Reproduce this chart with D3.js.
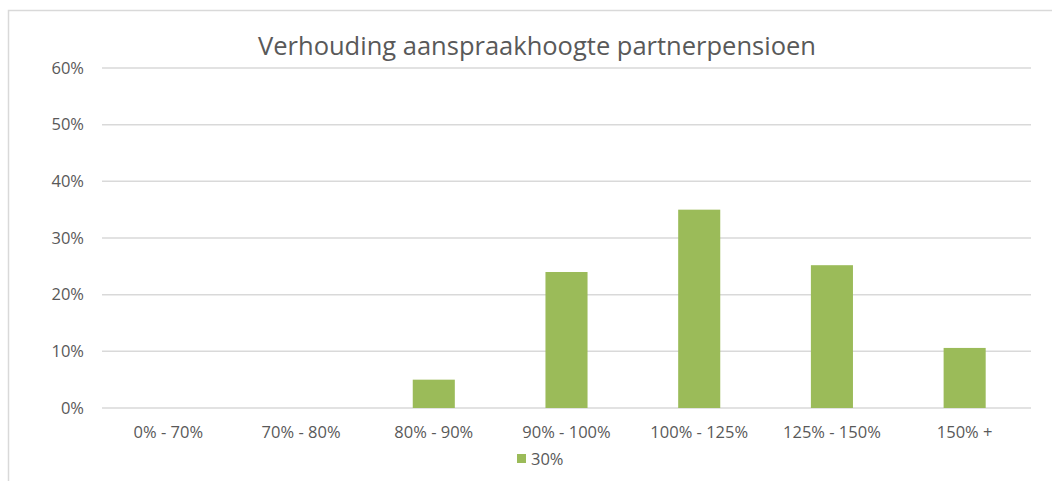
<!DOCTYPE html>
<html>
<head>
<meta charset="utf-8">
<script src="https://cdn.jsdelivr.net/npm/d3@7"></script>
<style>
  body { margin: 0; background: #fff; }
  text { font-family: "Open Sans", "Liberation Sans", sans-serif; fill: #595959; }
</style>
</head>
<body>
<svg id="chart"></svg>
<script>
const categories = ["0% - 70%", "70% - 80%", "80% - 90%", "90% - 100%", "100% - 125%", "125% - 150%", "150% +"];
const values = [0, 0, 5.0, 24.0, 35.0, 25.2, 10.6];
const yTicks = [0, 10, 20, 30, 40, 50, 60];
const seriesName = "30%";
const title = "Verhouding aanspraakhoogte partnerpensioen";

const width = 1052, height = 481;
const margin = { top: 68, right: 21, bottom: 73, left: 102 };
const innerW = width - margin.left - margin.right;
const innerH = height - margin.top - margin.bottom;
const green = "#9BBB59";

const svg = d3.select("#chart").attr("width", width).attr("height", height);

// kader
svg.append("rect")
  .attr("x", 8.5).attr("y", 10.5)
  .attr("width", width + 10).attr("height", height + 10)
  .attr("fill", "none").attr("stroke", "#D9D9D9").attr("stroke-width", 1.5);

const g = svg.append("g").attr("transform", `translate(${margin.left},${margin.top})`);

const x = d3.scaleBand().domain(categories).range([0, innerW]).paddingInner(0.683).paddingOuter(0.3415);
const y = d3.scaleLinear().domain([0, 60]).range([innerH, 0]);

// rasterlijnen
g.selectAll(".grid")
  .data(yTicks)
  .enter()
  .append("line")
  .attr("class", "grid")
  .attr("x1", 0).attr("x2", innerW)
  .attr("y1", d => y(d)).attr("y2", d => y(d))
  .attr("stroke", "#D9D9D9").attr("stroke-width", 1.5);

// y-as labels
const yAxis = d3.axisLeft(y).tickValues(yTicks).tickFormat(d => d + "%").tickSize(0).tickPadding(18);
const yAxisGroup = g.append("g").call(yAxis);
yAxisGroup.select(".domain").remove();
yAxisGroup.selectAll(".tick text")
  .attr("font-size", 16.5).attr("font-family", null).style("fill", "#595959");

// balken
g.selectAll(".bar")
  .data(values)
  .enter()
  .append("rect")
  .attr("class", "bar")
  .attr("x", (d, i) => x(categories[i]))
  .attr("width", x.bandwidth())
  .attr("y", d => y(d))
  .attr("height", d => innerH - y(d))
  .attr("fill", green);

// x-as labels
const xAxis = d3.axisBottom(x).tickSize(0).tickPadding(18);
const xAxisGroup = g.append("g").attr("transform", `translate(0,${innerH})`).call(xAxis);
xAxisGroup.select(".domain").remove();
xAxisGroup.selectAll(".tick text")
  .attr("font-size", 16.5).attr("font-family", null).style("fill", "#595959");

// titel
svg.append("text")
  .attr("x", 537).attr("y", 55)
  .attr("text-anchor", "middle")
  .attr("font-size", 25.5)
  .text(title);

// legenda
const legend = svg.append("g").attr("transform", "translate(517,454)");
legend.append("rect").attr("width", 9).attr("height", 9).attr("fill", green);
legend.append("text").attr("x", 14).attr("y", 10.5).attr("font-size", 16.5).text(seriesName);
</script>
</body>
</html>
